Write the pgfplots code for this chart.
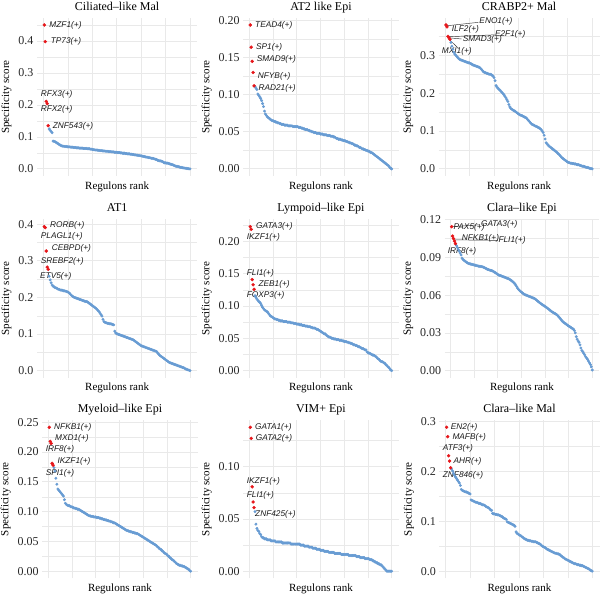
\documentclass[border=0pt]{standalone}
\usepackage{pgfplots}
\pgfplotsset{compat=1.18}
\usepackage{pgfplotstable}
\usepackage{fontspec}
\setmainfont{Liberation Serif}
\newfontfamily\labfont{Liberation Sans}
\definecolor{ptblue}{RGB}{104,156,211}
\definecolor{ptred}{RGB}{230,22,26}
\definecolor{gridc}{RGB}{233,233,233}
\definecolor{tickc}{RGB}{40,40,40}

\tikzset{
  lab/.style={font=\labfont\itshape\fontsize{8.3}{9}\selectfont, anchor=west, inner sep=0pt, text=black!90},
  lead/.style={draw=black!80, line width=0.45pt},
}
\pgfplotsset{
  panel/.style={
    scale only axis, anchor=south west, height=158.3pt,
    xmin=-6.45, xmax=157.45, xtick={0,50,100,150}, minor xtick={25,75,125}, xticklabels={},
    grid=both,
    major grid style={draw=gridc, line width=0.8pt},
    minor grid style={draw=gridc, line width=0.4pt},
    axis line style={draw=none}, tick style={draw=none},
    major tick length=0pt, minor tick length=0pt,
    every axis title/.style={at={(axis description cs:0.5,1)}, anchor=base, yshift=7.5pt, font=\fontsize{12}{14}\selectfont},
    xlabel={Regulons rank}, ylabel={Specificity score},
    label style={font=\fontsize{11}{13}\selectfont},
    xlabel style={at={(axis description cs:0.5,0)}, anchor=base, yshift=-13pt},
    yticklabel style={font=\fontsize{12}{14}\selectfont, text=tickc},
    y tick label style={/pgf/number format/fixed, /pgf/number format/fixed zerofill, /pgf/number format/assume math mode=true},
    scaled y ticks=false,
    clip=false,
  },
  bluepts/.style={only marks, mark=*, mark size=1.25pt, color=ptblue, mark options={draw=none, fill=ptblue}},
  redpts/.style={only marks, mark=*, mark size=1.5pt, color=ptred, mark options={draw=none, fill=ptred}},
}

% Ciliated-like Mal (ranks 6..150)
\pgfplotstableread[row sep=\\]{y\\
0.125\\0.121\\0.117\\0.113\\
0.087\\0.086\\0.085\\0.083\\0.081\\0.079\\0.077\\0.075\\0.073\\0.072\\
0.071\\0.071\\0.070\\0.070\\0.070\\0.069\\0.069\\0.069\\0.068\\0.068\\
0.068\\0.067\\0.067\\0.067\\0.066\\0.066\\0.066\\0.065\\0.065\\0.065\\
0.065\\0.064\\0.064\\0.064\\0.064\\0.063\\0.063\\0.063\\0.062\\0.062\\
0.061\\0.060\\0.060\\0.059\\0.059\\0.059\\0.058\\0.058\\0.057\\0.057\\
0.057\\0.056\\0.056\\0.056\\0.055\\0.055\\0.055\\0.054\\0.054\\0.054\\
0.053\\0.053\\0.053\\0.052\\0.052\\0.052\\0.051\\0.051\\0.051\\0.050\\
0.050\\0.049\\0.049\\0.049\\0.048\\0.048\\0.047\\0.047\\0.047\\0.046\\
0.046\\0.045\\0.045\\0.044\\0.044\\0.043\\0.043\\0.042\\0.042\\0.041\\
0.041\\0.040\\0.039\\0.039\\0.038\\0.037\\0.037\\0.036\\0.035\\0.035\\
0.034\\0.033\\0.033\\0.032\\0.031\\0.030\\0.029\\0.027\\0.026\\0.025\\
0.025\\0.024\\0.023\\0.020\\0.019\\0.019\\0.018\\0.018\\0.017\\0.016\\
0.015\\0.014\\0.013\\0.012\\0.010\\0.009\\0.008\\0.008\\0.007\\0.006\\
0.005\\0.005\\0.004\\0.003\\0.003\\0.002\\0.002\\0.001\\0.001\\0.000\\0.000\\
}\dA

% AT2 like Epi
\pgfplotstableread[row sep=\\]{y\\
0.111\\0.109\\0.107\\0.101\\
0.099\\0.097\\0.095\\0.092\\0.088\\0.084\\0.078\\0.074\\0.072\\0.070\\
0.069\\0.068\\0.067\\0.066\\0.065\\0.065\\0.064\\0.064\\0.063\\0.063\\
0.062\\0.062\\0.061\\0.061\\0.060\\0.060\\0.060\\0.059\\0.059\\0.059\\
0.059\\0.058\\0.058\\0.058\\0.058\\0.058\\0.057\\0.057\\0.057\\0.057\\
0.057\\0.057\\0.056\\0.056\\0.056\\0.055\\0.055\\0.054\\0.054\\0.053\\
0.053\\0.053\\0.052\\0.052\\0.051\\0.051\\0.050\\0.050\\0.049\\0.049\\
0.049\\0.048\\0.048\\0.048\\0.048\\0.047\\0.047\\0.047\\0.046\\0.046\\
0.046\\0.046\\0.045\\0.045\\0.045\\0.045\\0.044\\0.044\\0.044\\0.043\\
0.043\\0.042\\0.041\\0.041\\0.040\\0.040\\0.040\\0.039\\0.039\\0.038\\
0.038\\0.038\\0.037\\0.037\\0.036\\0.036\\0.035\\0.035\\0.034\\0.034\\
0.033\\0.032\\0.032\\0.031\\0.031\\0.030\\0.029\\0.029\\0.028\\0.027\\
0.027\\0.026\\0.026\\0.025\\0.025\\0.024\\0.024\\0.023\\0.022\\0.022\\
0.021\\0.020\\0.019\\0.018\\0.017\\0.016\\0.015\\0.014\\0.013\\0.012\\
0.011\\0.010\\0.009\\0.008\\0.007\\0.006\\0.005\\0.004\\0.002\\0.001\\0.000\\
}\dB

% CRABP2+ Mal
\pgfplotstableread[row sep=\\]{y\\
0.334\\0.324\\0.316\\0.308\\
0.303\\0.300\\0.297\\0.294\\0.291\\0.289\\0.288\\0.287\\0.286\\0.285\\
0.284\\0.283\\0.282\\0.281\\0.280\\0.280\\0.278\\0.277\\0.275\\0.274\\
0.273\\0.272\\0.271\\0.270\\0.269\\0.268\\0.266\\0.263\\0.260\\0.257\\
0.255\\0.254\\0.253\\0.252\\0.251\\0.250\\0.250\\0.249\\0.247\\0.245\\
0.241\\0.233\\0.220\\0.216\\0.213\\0.210\\0.208\\0.205\\0.202\\0.199\\
0.196\\0.192\\0.188\\0.183\\0.178\\0.170\\0.164\\0.160\\0.158\\0.156\\
0.154\\0.153\\0.151\\0.149\\0.147\\0.145\\0.143\\0.142\\0.141\\0.140\\
0.138\\0.137\\0.136\\0.134\\0.131\\0.128\\0.125\\0.122\\0.119\\0.117\\
0.116\\0.115\\0.113\\0.112\\0.111\\0.109\\0.108\\0.106\\0.104\\0.100\\
0.096\\0.089\\0.079\\0.069\\0.066\\0.063\\0.060\\0.058\\0.056\\0.054\\
0.052\\0.050\\0.048\\0.046\\0.044\\0.041\\0.039\\0.036\\0.033\\0.030\\
0.028\\0.026\\0.024\\0.022\\0.020\\0.018\\0.017\\0.016\\0.015\\0.015\\
0.014\\0.014\\0.013\\0.013\\0.012\\0.011\\0.011\\0.010\\0.009\\0.008\\
0.007\\0.007\\0.006\\0.005\\0.004\\0.004\\0.003\\0.002\\0.001\\0.001\\0.000\\
}\dC

% AT1
\pgfplotstableread[row sep=\\]{y\\
0.258\\0.248\\0.240\\0.234\\
0.231\\0.229\\0.227\\0.226\\0.225\\0.223\\0.222\\0.221\\0.220\\0.220\\
0.219\\0.218\\0.218\\0.217\\0.216\\0.215\\0.213\\0.211\\0.208\\0.205\\
0.203\\0.201\\0.200\\0.199\\0.198\\0.197\\0.196\\0.195\\0.194\\0.193\\
0.192\\0.191\\0.190\\0.189\\0.189\\0.188\\0.186\\0.184\\0.182\\0.180\\
0.178\\0.176\\0.174\\0.172\\0.170\\0.167\\0.164\\0.161\\0.157\\0.153\\
0.149\\0.140\\0.134\\0.132\\0.131\\0.130\\0.129\\0.129\\0.128\\0.128\\
0.127\\0.126\\0.125\\0.108\\0.103\\0.101\\0.100\\0.099\\0.098\\0.097\\
0.096\\0.095\\0.094\\0.093\\0.092\\0.091\\0.090\\0.089\\0.088\\0.087\\
0.086\\0.085\\0.084\\0.082\\0.080\\0.078\\0.076\\0.074\\0.072\\0.070\\
0.068\\0.067\\0.066\\0.065\\0.064\\0.063\\0.062\\0.061\\0.060\\0.059\\
0.058\\0.057\\0.056\\0.055\\0.054\\0.053\\0.052\\0.048\\0.045\\0.042\\
0.040\\0.038\\0.036\\0.034\\0.032\\0.030\\0.028\\0.026\\0.024\\0.022\\
0.021\\0.020\\0.019\\0.018\\0.017\\0.016\\0.015\\0.014\\0.013\\0.012\\
0.011\\0.010\\0.009\\0.008\\0.007\\0.005\\0.004\\0.003\\0.002\\0.001\\0.000\\
}\dD

% Lympoid-like Epi
\pgfplotstableread[row sep=\\]{y\\
0.116\\0.113\\0.111\\0.109\\
0.107\\0.106\\0.104\\0.101\\0.098\\0.096\\0.094\\0.093\\0.092\\0.091\\
0.089\\0.087\\0.085\\0.084\\0.083\\0.082\\0.081\\0.080\\0.080\\0.079\\
0.079\\0.078\\0.078\\0.077\\0.077\\0.077\\0.076\\0.076\\0.076\\0.076\\
0.075\\0.075\\0.075\\0.075\\0.074\\0.074\\0.074\\0.073\\0.073\\0.073\\
0.072\\0.072\\0.072\\0.071\\0.071\\0.071\\0.070\\0.070\\0.070\\0.069\\
0.069\\0.069\\0.068\\0.068\\0.068\\0.067\\0.067\\0.066\\0.066\\0.066\\
0.065\\0.064\\0.064\\0.063\\0.062\\0.061\\0.060\\0.059\\0.058\\0.057\\
0.057\\0.055\\0.054\\0.053\\0.052\\0.052\\0.051\\0.050\\0.050\\0.049\\
0.049\\0.049\\0.048\\0.048\\0.048\\0.047\\0.047\\0.047\\0.046\\0.046\\
0.045\\0.045\\0.045\\0.044\\0.044\\0.043\\0.043\\0.042\\0.042\\0.041\\
0.040\\0.040\\0.039\\0.039\\0.038\\0.037\\0.037\\0.036\\0.035\\0.034\\
0.034\\0.033\\0.032\\0.032\\0.029\\0.028\\0.027\\0.027\\0.026\\0.025\\
0.024\\0.024\\0.023\\0.022\\0.021\\0.019\\0.018\\0.017\\0.015\\0.014\\
0.014\\0.013\\0.012\\0.011\\0.009\\0.008\\0.006\\0.005\\0.003\\0.001\\0.000\\
}\dE

% Clara-like Epi
\pgfplotstableread[row sep=\\]{y\\
0.0995\\0.0980\\0.0965\\0.0950\\
0.0935\\0.0920\\0.0895\\0.0885\\0.0878\\0.0872\\0.0866\\0.0861\\0.0856\\0.0852\\
0.0850\\0.0848\\0.0846\\0.0844\\0.0842\\0.0840\\0.0838\\0.0836\\0.0834\\0.0832\\
0.0830\\0.0829\\0.0828\\0.0827\\0.0825\\0.0822\\0.0818\\0.0814\\0.0810\\0.0806\\
0.0803\\0.0800\\0.0798\\0.0796\\0.0794\\0.0790\\0.0785\\0.0780\\0.0775\\0.0770\\
0.0765\\0.0760\\0.0758\\0.0755\\0.0752\\0.0749\\0.0746\\0.0743\\0.0740\\0.0737\\
0.0734\\0.0731\\0.0728\\0.0723\\0.0718\\0.0712\\0.0706\\0.0699\\0.0690\\0.0680\\
0.0668\\0.0655\\0.0645\\0.0637\\0.0630\\0.0624\\0.0618\\0.0612\\0.0607\\0.0602\\
0.0600\\0.0597\\0.0594\\0.0591\\0.0588\\0.0585\\0.0582\\0.0579\\0.0576\\0.0572\\
0.0567\\0.0560\\0.0554\\0.0548\\0.0542\\0.0536\\0.0530\\0.0525\\0.0520\\0.0515\\
0.0510\\0.0505\\0.0500\\0.0494\\0.0488\\0.0482\\0.0476\\0.0470\\0.0465\\0.0460\\
0.0456\\0.0452\\0.0447\\0.0440\\0.0432\\0.0424\\0.0415\\0.0405\\0.0396\\0.0388\\
0.0382\\0.0377\\0.0372\\0.0366\\0.0360\\0.0355\\0.0350\\0.0345\\0.0340\\0.0335\\
0.0330\\0.0320\\0.0300\\0.0270\\0.0250\\0.0235\\0.0225\\0.0205\\0.0180\\0.0160\\
0.0150\\0.0137\\0.0125\\0.0110\\0.0100\\0.0090\\0.0075\\0.0062\\0.0048\\0.0030\\0.0005\\
}\dF

% Myeloid-like Epi
\pgfplotstableread[row sep=\\]{y\\
0.174\\0.168\\0.156\\0.146\\
0.138\\0.136\\0.134\\0.132\\0.130\\0.128\\0.126\\0.120\\0.114\\0.112\\
0.111\\0.110\\0.110\\0.109\\0.108\\0.108\\0.107\\0.106\\0.106\\0.105\\
0.105\\0.104\\0.104\\0.103\\0.102\\0.101\\0.100\\0.099\\0.098\\0.097\\
0.096\\0.095\\0.094\\0.093\\0.093\\0.092\\0.092\\0.092\\0.091\\0.091\\
0.091\\0.090\\0.090\\0.090\\0.089\\0.089\\0.088\\0.088\\0.087\\0.087\\
0.086\\0.086\\0.085\\0.085\\0.084\\0.084\\0.083\\0.083\\0.082\\0.081\\
0.081\\0.080\\0.079\\0.078\\0.077\\0.076\\0.075\\0.074\\0.073\\0.072\\
0.071\\0.070\\0.069\\0.068\\0.068\\0.067\\0.067\\0.066\\0.066\\0.065\\
0.065\\0.064\\0.064\\0.063\\0.063\\0.062\\0.061\\0.060\\0.059\\0.058\\
0.057\\0.056\\0.055\\0.054\\0.053\\0.052\\0.051\\0.050\\0.049\\0.048\\
0.047\\0.046\\0.045\\0.044\\0.043\\0.041\\0.040\\0.038\\0.037\\0.036\\
0.034\\0.033\\0.031\\0.030\\0.029\\0.028\\0.026\\0.025\\0.023\\0.022\\
0.020\\0.019\\0.018\\0.016\\0.015\\0.013\\0.012\\0.011\\0.010\\0.010\\
0.009\\0.009\\0.008\\0.008\\0.007\\0.006\\0.005\\0.004\\0.003\\0.001\\0.000\\
}\dG

% VIM+ Epi
\pgfplotstableread[row sep=\\]{y\\
0.057\\0.045\\0.041\\0.039\\
0.038\\0.036\\0.035\\0.033\\0.032\\0.032\\0.031\\0.031\\0.031\\0.030\\
0.030\\0.030\\0.030\\0.029\\0.029\\0.029\\0.029\\0.029\\0.028\\0.028\\
0.028\\0.028\\0.028\\0.028\\0.028\\0.027\\0.027\\0.027\\0.027\\0.027\\
0.027\\0.027\\0.027\\0.027\\0.026\\0.026\\0.026\\0.026\\0.026\\0.026\\
0.026\\0.026\\0.026\\0.026\\0.025\\0.025\\0.025\\0.025\\0.024\\0.024\\
0.024\\0.024\\0.024\\0.023\\0.023\\0.023\\0.023\\0.022\\0.022\\0.022\\
0.022\\0.021\\0.021\\0.021\\0.021\\0.020\\0.020\\0.020\\0.020\\0.019\\
0.019\\0.019\\0.019\\0.019\\0.018\\0.018\\0.018\\0.018\\0.018\\0.018\\
0.017\\0.017\\0.017\\0.017\\0.017\\0.017\\0.017\\0.016\\0.016\\0.016\\
0.016\\0.016\\0.016\\0.016\\0.016\\0.015\\0.015\\0.015\\0.015\\0.015\\
0.015\\0.015\\0.015\\0.014\\0.014\\0.014\\0.014\\0.013\\0.013\\0.013\\
0.013\\0.013\\0.012\\0.012\\0.012\\0.012\\0.012\\0.011\\0.011\\0.011\\
0.010\\0.010\\0.009\\0.009\\0.008\\0.008\\0.007\\0.007\\0.006\\0.006\\
0.005\\0.004\\0.003\\0.002\\0.001\\0.000\\0.000\\0.000\\0.000\\0.000\\0.000\\
}\dH

% Clara-like Mal
\pgfplotstableread[row sep=\\]{y\\
0.205\\0.201\\0.196\\0.192\\
0.189\\0.186\\0.183\\0.180\\0.177\\0.172\\0.164\\0.162\\0.161\\0.160\\
0.159\\0.159\\0.158\\0.157\\0.156\\0.155\\0.143\\0.142\\0.141\\0.140\\
0.139\\0.138\\0.138\\0.137\\0.136\\0.136\\0.135\\0.134\\0.133\\0.133\\
0.132\\0.130\\0.129\\0.128\\0.127\\0.125\\0.123\\0.122\\0.116\\0.115\\
0.115\\0.114\\0.114\\0.113\\0.113\\0.112\\0.111\\0.110\\0.109\\0.107\\
0.106\\0.105\\0.104\\0.099\\0.098\\0.097\\0.096\\0.095\\0.094\\0.093\\
0.092\\0.090\\0.079\\0.076\\0.075\\0.073\\0.072\\0.071\\0.069\\0.068\\
0.066\\0.065\\0.064\\0.063\\0.062\\0.062\\0.061\\0.061\\0.060\\0.060\\
0.059\\0.059\\0.059\\0.058\\0.057\\0.056\\0.055\\0.054\\0.052\\0.050\\
0.049\\0.048\\0.047\\0.045\\0.044\\0.043\\0.042\\0.041\\0.040\\0.039\\
0.038\\0.037\\0.036\\0.036\\0.035\\0.035\\0.034\\0.033\\0.031\\0.030\\
0.028\\0.027\\0.025\\0.024\\0.023\\0.022\\0.021\\0.020\\0.019\\0.018\\
0.017\\0.016\\0.015\\0.015\\0.014\\0.013\\0.013\\0.012\\0.012\\0.011\\
0.011\\0.010\\0.009\\0.008\\0.007\\0.006\\0.005\\0.004\\0.002\\0.001\\0.000\\
}\dI

\begin{document}
\begin{tikzpicture}
\useasboundingbox (0,0) rectangle (600pt,596pt);

% ---------- Row 1 ----------
\begin{axis}[panel, at={(37pt,419.9pt)}, width=160.3pt, title={Ciliated\textendash like Mal},
  ymin=-0.0225, ymax=0.4725, ytick={0,0.1,0.2,0.3,0.4}, minor ytick={0.05,0.15,0.25,0.35,0.45},
  y tick label style={/pgf/number format/precision=1}]
\addplot[bluepts] table[x expr=\coordindex+6, y=y] {\dA};
\addplot[redpts] coordinates {(1,0.450)(2,0.398)(3,0.211)(4,0.204)(5,0.135)};
\node[lab] at (axis cs:6.1,0.450) {MZF1(+)};
\node[lab] at (axis cs:7.5,0.398) {TP73(+)};
\node[lab] at (axis cs:-2.7,0.232) {RFX3(+)};
\node[lab] at (axis cs:-2.7,0.185) {RFX2(+)};
\node[lab] at (axis cs:9.5,0.133) {ZNF543(+)};
\end{axis}

\begin{axis}[panel, at={(243.2pt,419.9pt)}, width=155.5pt, title={AT2 like Epi},
  ymin=-0.0097, ymax=0.2037, ytick={0,0.05,0.1,0.15,0.2}, minor ytick={0.025,0.075,0.125,0.175},
  y tick label style={/pgf/number format/precision=2}]
\addplot[bluepts] table[x expr=\coordindex+6, y=y] {\dB};
\addplot[redpts] coordinates {(1,0.194)(2,0.164)(3,0.145)(4,0.130)(5,0.112)};
\node[lab] at (axis cs:6,0.194) {TEAD4(+)};
\node[lab] at (axis cs:7,0.164) {SP1(+)};
\node[lab] at (axis cs:7.7,0.147) {SMAD9(+)};
\node[lab] at (axis cs:8.8,0.125) {NFYB(+)};
\node[lab] at (axis cs:9.5,0.109) {RAD21(+)};
\end{axis}

\begin{axis}[panel, at={(438.7pt,419.9pt)}, width=160.8pt, title={CRABP2+ Mal},
  ymin=-0.019, ymax=0.399, ytick={0,0.1,0.2,0.3}, minor ytick={0.05,0.15,0.25,0.35},
  y tick label style={/pgf/number format/precision=1}]
\addplot[bluepts] table[x expr=\coordindex+6, y=y] {\dC};
\draw[lead] (axis cs:2,0.378) -- (axis cs:34,0.387);
\draw[lead] (axis cs:3.5,0.349) -- (axis cs:50.5,0.354);
\draw[lead] (axis cs:4.5,0.346) -- (axis cs:17,0.343);
\draw[lead] (axis cs:5,0.340) -- (axis cs:13,0.320);
\addplot[redpts] coordinates {(1,0.380)(2,0.375)(3,0.350)(4,0.346)(5,0.342)};
\node[lab] at (axis cs:34.9,0.390) {ENO1(+)};
\node[lab] at (axis cs:6.8,0.368) {ILF2(+)};
\node[lab] at (axis cs:50.8,0.355) {E2F1(+)};
\node[lab] at (axis cs:18,0.341) {SMAD3(+)};
\node[lab] at (axis cs:-3.4,0.310) {MXI1(+)};
\end{axis}

% ---------- Row 2 ----------
\begin{axis}[panel, at={(37pt,218.2pt)}, width=160.3pt, title={AT1},
  ymin=-0.0197, ymax=0.4132, ytick={0,0.1,0.2,0.3,0.4}, minor ytick={0.05,0.15,0.25,0.35},
  y tick label style={/pgf/number format/precision=1}]
\addplot[bluepts] table[x expr=\coordindex+6, y=y] {\dD};
\addplot[redpts] coordinates {(1,0.3935)(2,0.391)(3,0.327)(4,0.283)(5,0.277)};
\node[lab] at (axis cs:6.8,0.396) {RORB(+)};
\node[lab] at (axis cs:-2.7,0.366) {PLAGL1(+)};
\node[lab] at (axis cs:8.6,0.334) {CEBPD(+)};
\node[lab] at (axis cs:-2.7,0.298) {SREBF2(+)};
\node[lab] at (axis cs:-3.4,0.257) {ETV5(+)};
\end{axis}

\begin{axis}[panel, at={(243.2pt,218.2pt)}, width=155.5pt, title={Lympoid\textendash like Epi},
  ymin=-0.01115, ymax=0.23415, ytick={0,0.05,0.1,0.15,0.2}, minor ytick={0.025,0.075,0.125,0.175,0.225},
  y tick label style={/pgf/number format/precision=2}]
\addplot[bluepts] table[x expr=\coordindex+6, y=y] {\dE};
\addplot[redpts] coordinates {(1,0.223)(2,0.219)(3,0.141)(4,0.133)(5,0.126)};
\node[lab] at (axis cs:7,0.223) {GATA3(+)};
\node[lab] at (axis cs:-2.8,0.206) {IKZF1(+)};
\node[lab] at (axis cs:-2.8,0.150) {FLI1(+)};
\node[lab] at (axis cs:9.5,0.133) {ZEB1(+)};
\node[lab] at (axis cs:-2.8,0.116) {FOXP3(+)};
\end{axis}

\begin{axis}[panel, at={(444.6pt,218.2pt)}, width=154.7pt, title={Clara\textendash like Epi},
  ymin=-0.0057, ymax=0.1202, ytick={0,0.03,0.06,0.09,0.12}, minor ytick={0.015,0.045,0.075,0.105},
  y tick label style={/pgf/number format/precision=2}]
\addplot[bluepts] table[x expr=\coordindex+6, y=y] {\dF};
\draw[lead] (axis cs:1,0.1145) -- (axis cs:31,0.1160);
\draw[lead] (axis cs:4,0.1040) -- (axis cs:50,0.1036);
\addplot[redpts] coordinates {(1,0.1145)(2,0.107)(3,0.105)(4,0.103)(5,0.101)};
\node[lab] at (axis cs:2.8,0.1137) {PAX5(+)};
\node[lab] at (axis cs:32,0.1163) {GATA3(+)};
\node[lab] at (axis cs:11.7,0.1049) {NFKB1(+)};
\node[lab] at (axis cs:50.5,0.1036) {FLI1(+)};
\node[lab] at (axis cs:-3.2,0.0951) {IRF8(+)};
\end{axis}

% ---------- Row 3 ----------
\begin{axis}[panel, at={(42.2pt,17.6pt)}, width=155.5pt, title={Myeloid\textendash like Epi},
  ymin=-0.0121, ymax=0.2537, ytick={0,0.05,0.1,0.15,0.2,0.25}, minor ytick={0.025,0.075,0.125,0.175,0.225},
  y tick label style={/pgf/number format/precision=2}]
\addplot[bluepts] table[x expr=\coordindex+6, y=y] {\dG};
\addplot[redpts] coordinates {(1,0.2416)(2,0.218)(3,0.2145)(4,0.181)(5,0.178)};
\node[lab] at (axis cs:6,0.2416) {NFKB1(+)};
\node[lab] at (axis cs:7,0.223) {MXD1(+)};
\node[lab] at (axis cs:-2.8,0.2045) {IRF8(+)};
\node[lab] at (axis cs:9.5,0.1837) {IKZF1(+)};
\node[lab] at (axis cs:-2.8,0.164) {SPI1(+)};
\end{axis}

\begin{axis}[panel, at={(243.2pt,17.6pt)}, width=155.5pt, title={VIM+ Epi},
  ymin=-0.0069, ymax=0.1447, ytick={0,0.05,0.1}, minor ytick={0.025,0.075,0.125},
  y tick label style={/pgf/number format/precision=2}]
\addplot[bluepts] table[x expr=\coordindex+6, y=y] {\dH};
\addplot[redpts] coordinates {(1,0.1378)(2,0.1272)(3,0.0808)(4,0.0663)(5,0.0609)};
\node[lab] at (axis cs:6,0.1378) {GATA1(+)};
\node[lab] at (axis cs:6.7,0.1272) {GATA2(+)};
\node[lab] at (axis cs:-2.8,0.0862) {IKZF1(+)};
\node[lab] at (axis cs:-2.8,0.0728) {FLI1(+)};
\node[lab] at (axis cs:6,0.0545) {ZNF425(+)};
\end{axis}

\begin{axis}[panel, at={(439.4pt,17.6pt)}, width=160.1pt, title={Clara\textendash like Mal},
  ymin=-0.0144, ymax=0.303, ytick={0,0.1,0.2,0.3}, minor ytick={0.05,0.15,0.25},
  y tick label style={/pgf/number format/precision=1}]
\addplot[bluepts] table[x expr=\coordindex+6, y=y] {\dI};
\addplot[redpts] coordinates {(1,0.2886)(2,0.2698)(3,0.2315)(4,0.2208)(5,0.2074)};
\node[lab] at (axis cs:5.1,0.2886) {EN2(+)};
\node[lab] at (axis cs:6.8,0.2678) {MAFB(+)};
\node[lab] at (axis cs:-3.1,0.2463) {ATF3(+)};
\node[lab] at (axis cs:7.8,0.2208) {AHR(+)};
\node[lab] at (axis cs:-3.1,0.1926) {ZNF846(+)};
\end{axis}
\end{tikzpicture}
\end{document}
